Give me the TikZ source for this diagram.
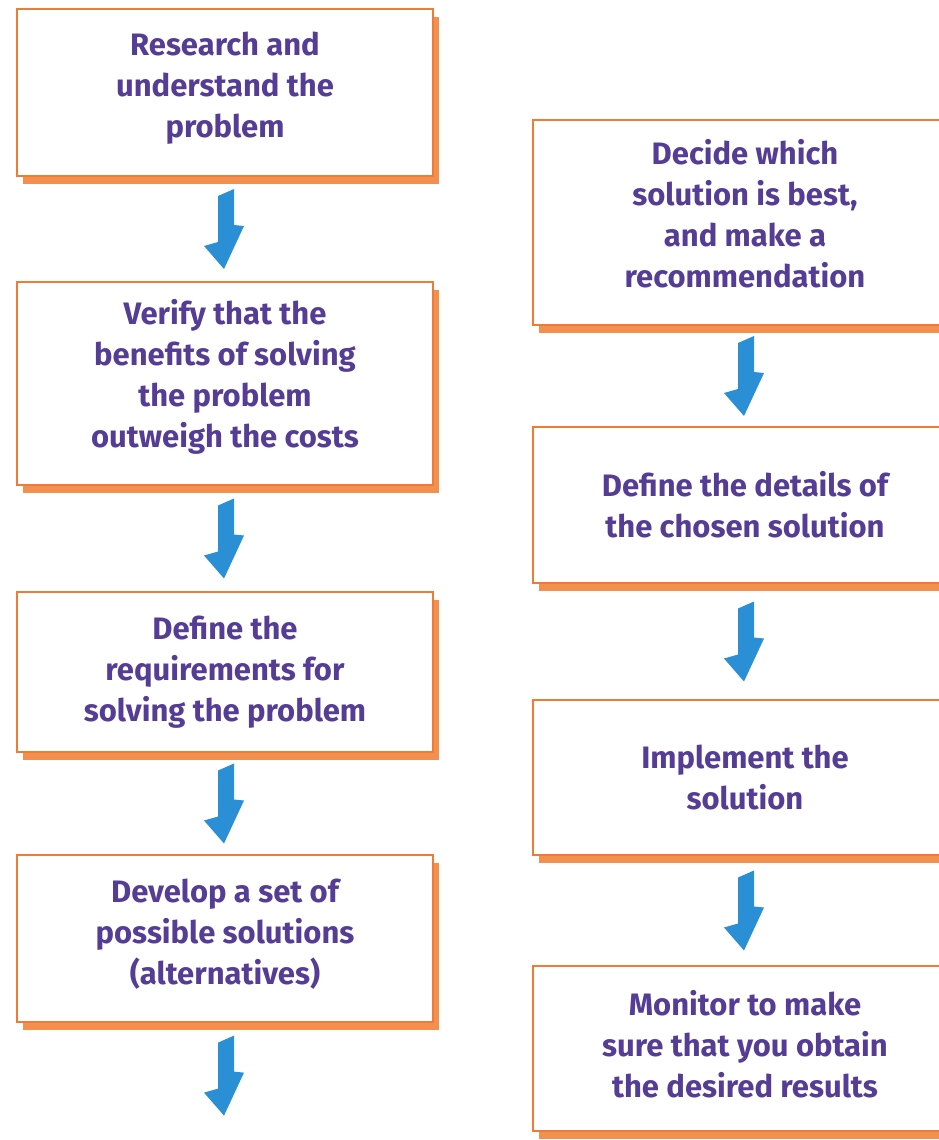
\documentclass[tikz,border=0pt]{standalone}
\usepackage{fontspec}
\setmainfont{Fira Sans}
\usetikzlibrary{calc,shadows}
\definecolor{orbox}{HTML}{F07B35}
\definecolor{orshadow}{HTML}{F39050}
\definecolor{arrblue}{HTML}{2A8FD4}
\definecolor{txtpurple}{HTML}{553D96}
\tikzset{
  stepbox/.style={draw=orbox, line width=2.5pt, fill=white, rectangle, inner sep=0pt,
    align=center, text=txtpurple, font=\fontsize{31}{41}\selectfont\bfseries,
    general shadow={fill=orshadow, draw=none, shadow xshift=6pt, shadow yshift=-8pt}},
  leftbox/.style={stepbox, minimum width=416pt},
  rightbox/.style={stepbox, minimum width=424pt},
  flowarrow/.style={fill=arrblue, draw=none}
}
\newcommand{\flowarr}[2]{%
  \path[flowarrow] ($(#1)!0.5!(#2)$) ++(-7,-33) -- ++(16,-7) -- ++(0,36) -- ++(10,1)
    -- ++(-20,43) -- ++(-20,-23) -- ++(14,-4) -- cycle;}
\begin{document}
\begin{tikzpicture}[x=1pt,y=-1pt]
\path[use as bounding box] (0,0) rectangle (939,1140);
\clip (0,0) rectangle (939,1140);
\node[leftbox, minimum height=167pt, text depth=16pt] (l1) at (225,92.5) {Research and\\understand the\\problem};
\node[leftbox, minimum height=203pt, text depth=20pt] (l2) at (225,383.5) {Verify that the\\benefits of solving\\the problem\\outweigh the costs};
\node[leftbox, minimum height=160pt] (l3) at (225,672) {Define the\\requirements for\\solving the problem};
\node[leftbox, minimum height=167pt, text depth=13pt] (l4) at (225,938.5) {Develop a set of\\possible solutions\\(alternatives)};
\coordinate (l5) at (225,1128);
\node[rightbox, minimum height=205pt, text depth=18pt] (r1) at (745,222.5) {Decide which\\solution is best,\\and make a\\recommendation};
\node[rightbox, minimum height=156pt, text depth=2pt] (r2) at (745,505) {Define the details of\\the chosen solution};
\node[rightbox, minimum height=155pt] (r3) at (745,777.5) {Implement the\\solution};
\node[rightbox, minimum height=165pt, text depth=10pt] (r4) at (745,1048.5) {Monitor to make\\sure that you obtain\\the desired results};
\flowarr{l1.south}{l2.north}
\flowarr{l2.south}{l3.north}
\flowarr{l3.south}{l4.north}
\flowarr{l4.south}{l5}
\flowarr{r1.south}{r2.north}
\flowarr{r2.south}{r3.north}
\flowarr{r3.south}{r4.north}
\end{tikzpicture}
\end{document}
